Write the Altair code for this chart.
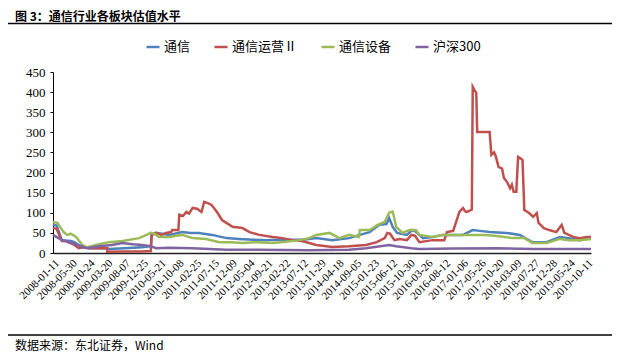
import altair as alt
import pandas as pd

# ---------------- data ----------------
chart_title = "图 3：通信行业各板块估值水平"
source_note = "数据来源：东北证券，Wind"

series_names = ["通信", "通信运营Ⅱ", "通信设备", "沪深300"]
series_colors = ["#4F81BD", "#C0504D", "#9BBB59", "#8064A2"]

# x-axis category labels (one every 20 weekly observations)
tick_labels = [
    "2008-01-11", "2008-05-30", "2008-10-24", "2009-03-20", "2009-08-07",
    "2009-12-25", "2010-05-21", "2010-10-08", "2011-02-25", "2011-07-15",
    "2011-12-09", "2012-05-04", "2012-09-21", "2013-02-22", "2013-07-12",
    "2013-11-29", "2014-04-18", "2014-09-05", "2015-01-23", "2015-06-12",
    "2015-10-30", "2016-03-26", "2016-08-12", "2017-01-06", "2017-05-26",
    "2017-10-20", "2018-03-09", "2018-07-27", "2018-12-28", "2019-05-24",
    "2019-10-11",
]

# 通信 (week index since 2008-01-11, PE)
tx_week = [0, 4, 10, 20, 24, 32, 41, 60, 63, 80, 100, 110, 111, 116, 131, 145, 155, 164,
           179, 195, 209, 225, 240, 255, 280, 288, 296, 314, 333, 345, 356, 367, 375,
           378, 382, 387, 398, 404, 408, 416, 427, 438, 449, 461, 472, 480, 491, 510,
           525, 539, 555, 570, 580, 592, 605]
tx_pe = [70, 68, 32, 30, 27, 15, 12, 12, 10, 12, 14, 17, 45, 50, 45, 52, 50, 50,
         45, 37, 35, 33, 32, 33, 33, 35, 37, 32, 37, 45, 52, 70, 72,
         87, 65, 50, 45, 57, 53, 37, 40, 45, 45, 45, 57, 55, 52, 50,
         45, 27, 27, 40, 37, 32, 40]

# 通信运营Ⅱ
yy_week = [0, 4, 7, 10, 14, 19, 24, 29, 35, 41, 50, 61, 61, 80, 100, 110, 111, 116,
           122, 127, 133, 134, 141, 142, 146, 150, 153, 157, 162, 167, 170, 174, 178,
           181, 185, 190, 195, 202, 213, 221, 232, 247, 258, 269, 280, 288, 296, 314,
           333, 352, 364, 373, 376, 379, 384, 390, 398, 403, 407, 412, 427, 440, 443,
           450, 454, 457, 461, 463, 465, 468, 471, 472, 474, 476, 477, 491, 493, 496,
           498, 501, 505, 507, 511, 514, 516, 518, 521, 523, 526, 528, 530, 535, 540,
           544, 546, 552, 558, 566, 572, 575, 585, 592, 600, 605]
yy_pe = [62, 60, 45, 30, 30, 25, 20, 12, 15, 12, 12, 12, 3, 4, 4, 5, 45, 50,
         45, 50, 52, 57, 57, 95, 92, 102, 98, 112, 110, 102, 127, 124, 120,
         112, 100, 82, 75, 65, 62, 52, 45, 40, 37, 32, 30, 25, 20, 15,
         17, 20, 27, 37, 50, 48, 32, 35, 32, 45, 43, 27, 32, 32, 52,
         55, 82, 102, 112, 105, 102, 105, 108, 413, 405, 398, 301, 301, 244, 250,
         240, 214, 210, 187, 175, 161, 170, 152, 152, 239, 235, 231, 107, 100, 90,
         99, 75, 62, 57, 52, 70, 50, 40, 37, 40, 40]

# 通信设备
sb_week = [0, 5, 8, 12, 16, 20, 26, 33, 38, 45, 52, 63, 78, 97, 105, 110, 114, 119,
           130, 145, 157, 172, 187, 200, 213, 230, 247, 262, 277, 288, 296, 311, 322,
           333, 344, 345, 356, 365, 373, 378, 382, 386, 393, 401, 408, 412, 427, 438,
           454, 472, 486, 499, 517, 530, 539, 555, 570, 580, 592, 605]
sb_pe = [77, 75, 65, 52, 45, 48, 40, 20, 14, 18, 22, 27, 30, 37, 45, 50, 48, 40,
         40, 45, 37, 35, 27, 27, 25, 27, 25, 28, 32, 37, 45, 50, 37,
         45, 40, 57, 57, 70, 77, 100, 103, 65, 50, 57, 57, 45, 40, 45,
         45, 45, 45, 42, 37, 37, 25, 25, 35, 32, 32, 35]

# 沪深300
hs_week = [0, 10, 21, 38, 52, 66, 78, 90, 100, 110, 116, 131, 157, 195, 230, 288,
           333, 352, 378, 386, 403, 412, 450, 500, 540, 570, 605]
hs_pe = [45, 32, 25, 12, 17, 20, 25, 22, 20, 17, 12, 13, 12, 8, 8, 7,
         8, 12, 20, 17, 12, 10, 11, 12, 10, 10, 10]

rows = []
for name, weeks, vals in zip(series_names,
                             [tx_week, yy_week, sb_week, hs_week],
                             [tx_pe, yy_pe, sb_pe, hs_pe]):
    for i, (w, v) in enumerate(zip(weeks, vals)):
        rows.append({"series": name, "week": w, "pe": v, "idx": i})
df = pd.DataFrame(rows)

deco = pd.DataFrame({"title": [chart_title], "note": [source_note]})

# ---------------- chart ----------------
label_array = "[" + ",".join("'%s'" % s for s in tick_labels) + "]"

serif = "Liberation Serif, Noto Sans CJK SC"
cjk = "Noto Sans CJK SC"

lines = alt.Chart(df).mark_line(strokeWidth=2.5).encode(
    x=alt.X("week:Q",
            scale=alt.Scale(domain=[0, 605], nice=False, zero=False),
            axis=alt.Axis(values=list(range(0, 601, 20)),
                          labelExpr=label_array + "[round(datum.value/20)]",
                          labelAngle=-45, labelFont=serif, labelFontSize=11,
                          labelColor="#000", ticks=False, grid=False,
                          domainColor="#222", domainWidth=1.5,
                          labelPadding=4, title=None, labelOverlap=False)),
    y=alt.Y("pe:Q",
            scale=alt.Scale(domain=[0, 450], nice=False),
            axis=alt.Axis(values=list(range(0, 451, 50)), grid=False,
                          labelFont=serif, labelFontSize=13, labelColor="#000",
                          tickColor="#000", tickSize=3, domainColor="#000",
                          labelPadding=5, title=None)),
    color=alt.Color("series:N",
                    scale=alt.Scale(domain=series_names, range=series_colors),
                    legend=alt.Legend(orient="none", legendX=92, legendY=-33,
                                      direction="horizontal", title=None,
                                      symbolType="stroke", symbolStrokeWidth=2.5,
                                      symbolSize=170, labelFont=cjk,
                                      labelFontSize=13, labelColor="#000",
                                      columnPadding=18, labelOffset=3, padding=0)),
    detail="series:N",
    order="idx:Q",
)

title_text = alt.Chart(deco).mark_text(
    align="left", baseline="middle", font=cjk, fontSize=12, fontWeight="bold",
    color="#000"
).encode(text="title:N", x=alt.value(-38), y=alt.value(-55))

title_rule = alt.Chart(deco).mark_rule(color="#000", strokeWidth=1.5).encode(
    x=alt.value(-45), x2=alt.value(560), y=alt.value(-48.5))

note_rule = alt.Chart(deco).mark_rule(color="#000", strokeWidth=1.5).encode(
    x=alt.value(-45), x2=alt.value(560), y=alt.value(263))

note_text = alt.Chart(deco).mark_text(
    align="left", baseline="middle", font=cjk, fontSize=12, color="#000"
).encode(text="note:N", x=alt.value(-38), y=alt.value(274))

chart = alt.layer(lines, title_text, title_rule, note_rule, note_text).properties(
    width=538, height=181,
    autosize=alt.AutoSizeParams(type="none"),
    padding={"left": 45, "top": 64, "right": 21, "bottom": 100},
).configure_view(stroke=None)

chart.save("out.html", embed_options={"renderer": "svg", "actions": False})
